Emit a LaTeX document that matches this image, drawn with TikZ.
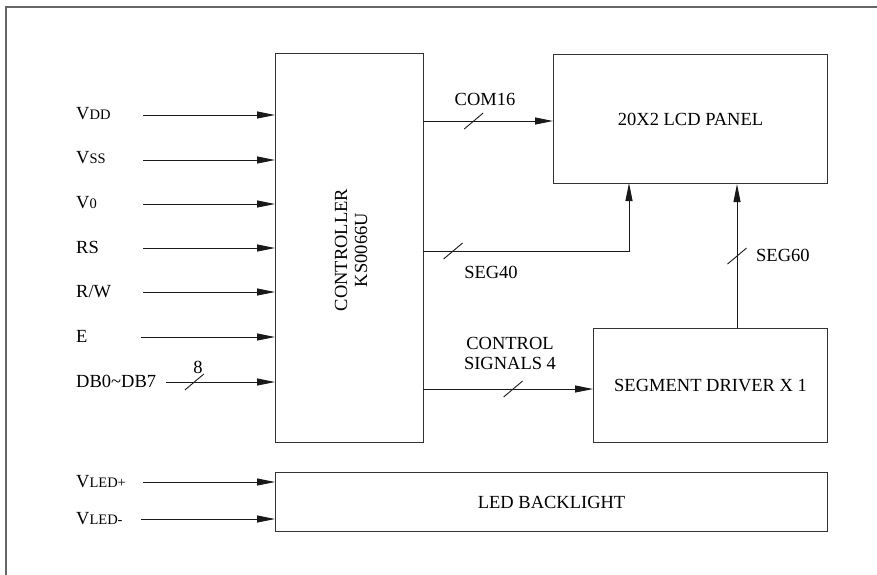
\documentclass[tikz,border=0pt]{standalone}
\usepackage{fontspec}
\setmainfont{Liberation Serif}
\usetikzlibrary{arrows.meta}
\newcommand{\smc}[1]{{\fontsize{14.5}{15}\selectfont #1}}
\tikzset{
  busslash/.pic={\draw[black!90, line width=0.9pt, -] (-9.5,8) -- (9.5,-8);}
}
\begin{document}
\begin{tikzpicture}[x=1pt,y=-1pt,
  frame/.style={draw=black!60, line width=1.3pt},
  box/.style={draw=black!80, line width=1.1pt, inner sep=0pt, anchor=north west,
    font=\fontsize{18.5}{20}\selectfont, align=center},
  wire/.style={draw=black!90, line width=0.9pt},
  arr/.style={wire, -{Triangle[length=18pt,width=7pt]}},
  lbl/.style={font=\fontsize{18.5}{20}\selectfont, inner sep=0pt, align=center},
  inlbl/.style={lbl, anchor=base west}
]
\useasboundingbox (0,0) rectangle (877,574);
\draw[frame] (6,600) -- (6,7) -- (900,7);

% blocks
\node[box, minimum width=148pt, minimum height=389pt] (ctrl) at (275,53) {};
\node[lbl, rotate=90] (ctrltxt) at (351,250) {CONTROLLER\\KS0066U};
\node[box, minimum width=274pt, minimum height=129pt] (lcd) at (553,54) {20X2 LCD PANEL};
\node[box, minimum width=234pt, minimum height=114pt] (seg) at (593,328) {SEGMENT DRIVER X 1};
\node[box, minimum width=552pt, minimum height=59pt] (led) at (275,472) {LED BACKLIGHT};

% inputs
\coordinate (ivdd) at (143,115);
\coordinate (ivss) at (143,160);
\coordinate (iv0)  at (143,204);
\coordinate (irs)  at (143,248);
\coordinate (irw)  at (143,292);
\coordinate (ie)   at (141,337);
\coordinate (idb)  at (166,382);
\coordinate (ilp)  at (143,482);
\coordinate (ilm)  at (141,519);

\node[inlbl] (lvdd) at (76,119) {V\smc{DD}};
\node[inlbl] (lvss) at (76,163) {V\smc{SS}};
\node[inlbl] (lv0)  at (76,208) {V\smc{0}};
\node[inlbl] (lrs)  at (76,253) {RS};
\node[inlbl] (lrw)  at (76,297) {R/W};
\node[inlbl] (le)   at (76,342) {E};
\node[inlbl] (ldb)  at (76,387) {DB0\textasciitilde DB7};
\node[inlbl] (llp)  at (76,487) {V\smc{LED+}};
\node[inlbl] (llm)  at (76,524) {V\smc{LED-}};

\draw[arr] (ivdd) -- (ivdd -| ctrl.west);
\draw[arr] (ivss) -- (ivss -| ctrl.west);
\draw[arr] (iv0)  -- (iv0 -| ctrl.west);
\draw[arr] (irs)  -- (irs -| ctrl.west);
\draw[arr] (irw)  -- (irw -| ctrl.west);
\draw[arr] (ie)   -- (ie -| ctrl.west);
\draw[arr] (idb)  -- pic[pos=0.26]{busslash} (idb -| ctrl.west);
\node[lbl] (l8) at (198,367) {8};
\draw[arr] (ilp)  -- (ilp -| led.west);
\draw[arr] (ilm)  -- (ilm -| led.west);

% outputs
\coordinate (ocom) at (423,121);
\coordinate (oseg) at (423,251);
\coordinate (octl) at (423,389);
\coordinate (s60)  at (737,328);
\coordinate (s40x) at (629,183);

\draw[arr] (ocom) -- pic[pos=0.39]{busslash} (ocom -| lcd.west);
\node[lbl] (lcom) at (485,99) {COM16};

\draw[arr] (oseg) -- pic[pos=0.146]{busslash} (s40x |- oseg) -- (s40x);
\node[lbl] (lseg40) at (491,272) {SEG40};

\draw[arr] (octl) -- pic[pos=0.53]{busslash} (octl -| seg.west);
\node[lbl] (lctl) at (510,353) {CONTROL\\SIGNALS 4};

\draw[arr] (s60) -- pic[pos=0.5]{busslash} (s60 |- lcd.south);
\node[lbl, anchor=west] (lseg60) at (756,255) {SEG60};
\end{tikzpicture}
\end{document}
